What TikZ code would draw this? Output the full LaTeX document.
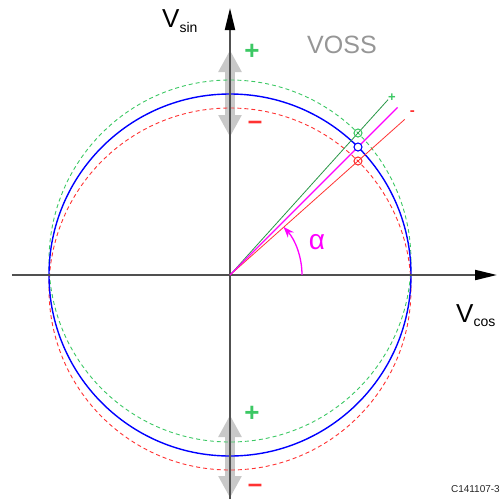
\documentclass[tikz,border=0pt]{standalone}
\usepackage{fontspec}
\setmainfont{Liberation Sans}
\usetikzlibrary{arrows.meta, calc}
\definecolor{offgreen}{RGB}{60,200,100}
\definecolor{linegreen}{RGB}{40,150,70}
\definecolor{offred}{RGB}{255,50,50}
\definecolor{anglemag}{RGB}{255,0,255}
\definecolor{axisgray}{RGB}{80,80,80}
\definecolor{shiftgray}{RGB}{200,200,200}
\definecolor{vossgray}{RGB}{150,150,150}
\tikzset{
  offcircle/.style={dash pattern=on 4pt off 3pt, line width=0.9pt},
  axisline/.style={axisgray, line width=2pt, -{Triangle[length=22pt,width=10pt,color=black]}},
  shiftarrow/.style={shiftgray, line width=10pt, {Triangle[length=22pt,width=22pt]}-{Triangle[length=22pt,width=22pt]}},
  bigsign/.style={font=\fontsize{26}{26}\selectfont\bfseries},
  smallsign/.style={font=\fontsize{15}{15}\selectfont\bfseries},
  axislabel/.style={font=\fontsize{26}{26}\selectfont, anchor=base west, inner sep=0pt},
  dot/.style={circle, draw, line width=1.1pt, minimum size=8pt, inner sep=0pt},
}
\newcommand{\subtext}[2]{\raisebox{-#1pt}{\fontsize{14}{14}\selectfont #2}}

\begin{document}
\begin{tikzpicture}[x=1pt, y=1pt]
  \useasboundingbox (-230,-224) rectangle (273,275);
  \coordinate (O) at (0,0);
  % offset shift arrows
  \draw[shiftarrow] (0,225) -- (0,138);
  \draw[shiftarrow] (0,-140) -- (0,-223);
  % circles
  \draw[offgreen, offcircle] (0,14) circle[radius=181];
  \draw[offred, offcircle] (0,-14) circle[radius=181];
  \draw[blue, line width=1.4pt] (O) circle[radius=181];
  % axes
  \coordinate (xstart) at (-218,0);
  \coordinate (xend) at (267,0);
  \coordinate (ystart) at (0,-224);
  \coordinate (yend) at (0,267);
  \draw[axisline] (xstart) -- (xend);
  \draw[axisline] (ystart) -- (yend);
  % measured points
  \coordinate (B) at (45:181);
  \coordinate (G) at ($(B)+(0,14)$);
  \coordinate (R) at ($(B)+(0,-14)$);
  \coordinate (Bend) at ($(O)!237pt!(B)$);
  \coordinate (Gend) at ($(O)!236pt!(G)$);
  \coordinate (Rend) at ($(O)!234pt!(R)$);
  \draw[linegreen, line width=0.8pt] (O) -- (Gend);
  \draw[offred, line width=0.8pt] (O) -- (Rend);
  \draw[anglemag, line width=1.3pt] (O) -- (Bend);
  \node[dot, draw=offgreen] (gdot) at (G) {};
  \node[dot, draw=offred] (rdot) at (R) {};
  \node[dot, draw=blue, fill=white] (bdot) at (B) {};
  % angle
  \draw[anglemag, line width=1.3pt, -{Stealth[length=11pt,width=8pt]}] (72,0) arc[start angle=0, end angle=42, radius=72];
  \node[anglemag, font=\fontsize{28}{28}\selectfont] (alpha) at (87,33) {α};
  % labels
  \node[axislabel] (vsin) at (-68,248) {V\subtext{5}{sin}};
  \node[axislabel] (vcos) at (226,-47) {V\subtext{4}{cos}};
  \node[vossgray, font=\fontsize{25}{25}\selectfont, anchor=base west, inner sep=0pt] (voss) at (77,222) {VOSS};
  \node[offgreen, bigsign] (plustop) at (22,223) {+};
  \node[offred, bigsign] (minustop) at (25,150) {–};
  \node[offgreen, bigsign] (plusbot) at (22,-139) {+};
  \node[offred, bigsign] (minusbot) at (25,-213) {–};
  \node[offgreen, font=\fontsize{13}{13}\selectfont\bfseries, anchor=south west, inner sep=0pt] (plusline) at ($(Gend)+(0,-2)$) {+};
  \node[offred, smallsign, anchor=west, inner sep=0pt] (minusline) at ($(Rend)+(5,6)$) {-};
  \node[font=\fontsize{10}{10}\selectfont, anchor=east, inner sep=0pt, black!85] (code) at (270,-214) {C141107-3};
\end{tikzpicture}
\end{document}
